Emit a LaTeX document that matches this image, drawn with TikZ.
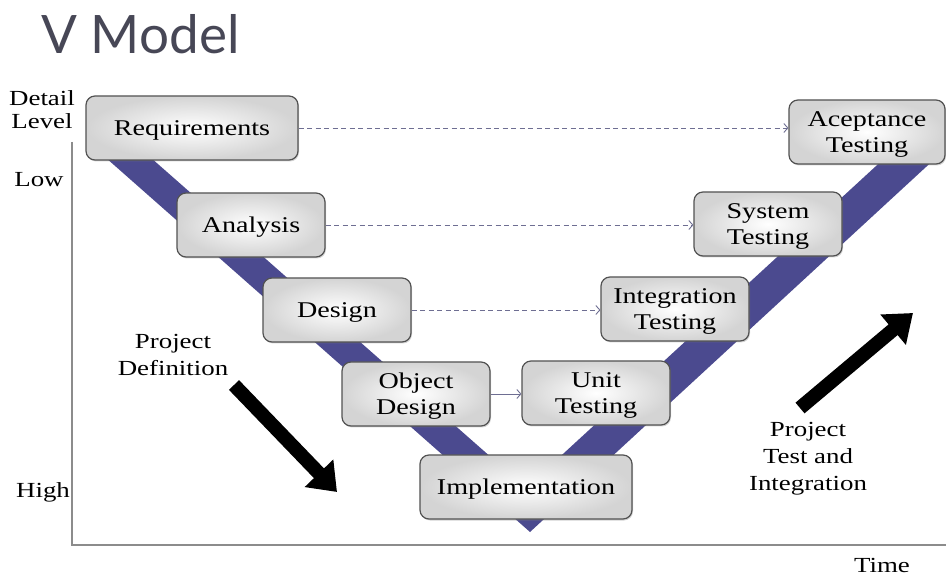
\documentclass[tikz,border=0pt]{standalone}
\usepackage{fontspec}
\setmainfont{Liberation Serif}[FakeStretch=1.25]
\newfontfamily\titlefont{Lato}
\usetikzlibrary{arrows.meta,shadows}
\definecolor{bandblue}{HTML}{4B4A8F}
\definecolor{linkgray}{HTML}{6E6E92}
\definecolor{titlegray}{HTML}{474756}
\begin{document}
\begin{tikzpicture}[x=1pt,y=-1pt,
  stage/.style={draw=black!68, line width=1.2pt, rounded corners=9pt,
    inner color=white, outer color=black!17, align=center,
    font=\fontsize{22.5}{26}\selectfont, minimum height=64pt,
    minimum width=148pt, inner sep=2pt, text depth=-3pt,
    drop shadow={shadow xshift=1pt, shadow yshift=-1.5pt, opacity=0.35}},
  wide/.style={minimum width=212pt},
  link/.style={draw=linkgray, line width=0.9pt, dash pattern=on 5pt off 3.5pt,
    -{Straight Barb[length=4pt,width=9pt]}},
  solidlink/.style={draw=linkgray, line width=0.9pt,
    -{Straight Barb[length=4pt,width=9pt]}},
  bigarrow/.style={draw=black, line width=14pt,
    -{Triangle[length=26pt,width=38pt]}},
  axislabel/.style={font=\fontsize{21.5}{27}\selectfont, align=center},
  axisline/.style={draw=black!45, line width=1.2pt}]
\useasboundingbox (0,0) rectangle (946,577);

% title
\node[font=\titlefont\fontsize{53}{53}\selectfont, text=titlegray, anchor=west] (title) at (38,34) {V Model};

% axes
\coordinate (axtop) at (72,142);
\coordinate (axorigin) at (72,545);
\coordinate (axright) at (946,545);
\draw[axisline] (axtop) -- (axorigin) -- (axright);
\node[axislabel] (detail) at (42,110) {Detail\\[-4pt]Level};
\node[axislabel] (low) at (39,180) {Low};
\node[axislabel] (high) at (43,492) {High};
\node[axislabel] (time) at (882,565) {Time};

% V band
\fill[bandblue] (97,150) -- (530,532) -- (939,155) -- (888,155) -- (526,488) -- (142,150) -- cycle;

% stages
\node[stage, wide] (req) at (192,128) {Requirements};
\node[stage] (ana) at (251,225) {Analysis};
\node[stage] (des) at (337,310) {Design};
\node[stage] (obj) at (416,394) {Object\\Design};
\node[stage, wide] (impl) at (526,487) {Implementation};
\node[stage] (unit) at (596,393) {Unit\\Testing};
\node[stage] (integ) at (675,309) {Integration\\Testing};
\node[stage] (sys) at (768,224) {System\\Testing};
\node[stage, minimum width=156pt] (acc) at (867,132) {Aceptance\\Testing};

% links
\draw[link] (req.east) -- (acc.west |- req.east);
\draw[link] (ana.east) -- (sys.west |- ana.east);
\draw[link] (des.east) -- (integ.west |- des.east);
\draw[solidlink] (obj.east) -- (unit.west |- obj.east);

% phase arrows and labels
\node[axislabel] (pdef) at (173,355) {Project\\Definition};
\coordinate (pdefstart) at (234,385);
\coordinate (pdefend) at (337,492);
\draw[bigarrow] (pdefstart) -- (pdefend);

\node[axislabel] (ptest) at (808,459) {Project\\Test and\\Integration};
\coordinate (ptststart) at (800,408);
\coordinate (ptstend) at (913,313);
\draw[bigarrow] (ptststart) -- (ptstend);
\end{tikzpicture}
\end{document}
